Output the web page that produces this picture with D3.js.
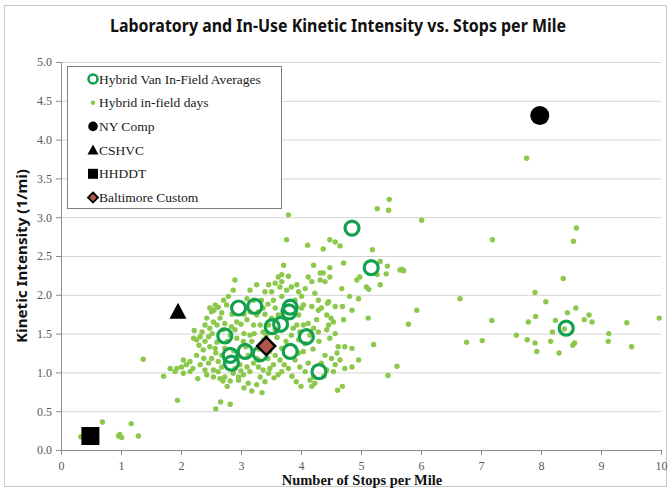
<!DOCTYPE html>
<html>
<head>
<meta charset="utf-8">
<script src="https://cdn.jsdelivr.net/npm/d3@7"></script>
<style>
  html, body { margin: 0; padding: 0; background: #fff; }
  svg { display: block; }
</style>
</head>
<body>
<svg id="chart" width="671" height="491"></svg>
<script>
// ---------------- DATA ----------------
const chartTitle = "Laboratory and In-Use Kinetic Intensity vs. Stops per Mile";
const xAxisTitle = "Number of Stops per Mile";
const yAxisTitle = "Kinetic Intensity (1/mi)";
const xTicks = [0, 1, 2, 3, 4, 5, 6, 7, 8, 9, 10];
const yTicks = [0.0, 0.5, 1.0, 1.5, 2.0, 2.5, 3.0, 3.5, 4.0, 4.5, 5.0];
const legendLabels = ["Hybrid Van In-Field Averages", "Hybrid in-field days", "NY Comp", "CSHVC", "HHDDT", "Baltimore Custom"];

// Hybrid in-field days [stops per mile, kinetic intensity]
const hybridDays = [
  [0.33,0.17],[0.69,0.36],[0.96,0.18],[0.98,0.20],[1.01,0.16],[1.17,0.34],[1.29,0.18],[1.94,0.64],
  [2.66,0.62],[2.82,0.59],[2.58,0.53],[2.70,0.89],[2.82,0.89],[2.77,0.82],[2.96,0.90],[1.37,1.17],
  [2.22,1.54],[2.21,1.44],[2.26,1.42],[2.32,1.46],[2.40,1.40],[2.46,1.46],[2.48,1.57],[2.54,1.65],
  [2.60,1.61],[2.51,1.78],[2.55,1.80],[2.65,1.70],[2.68,1.77],[2.73,1.63],[2.48,1.33],[2.57,1.31],
  [2.60,1.39],[2.37,1.29],[2.26,1.22],[2.15,1.14],[2.04,1.16],[2.01,1.07],[1.93,1.05],[1.82,1.05],
  [1.71,0.95],[1.90,1.01],[2.04,0.99],[2.15,1.01],[2.09,1.10],[2.32,1.10],[2.40,1.03],[2.46,1.12],
  [2.51,1.18],[2.54,1.03],[2.62,1.01],[2.68,1.07],[2.62,1.14],[2.68,1.22],[2.73,1.31],[2.54,0.94],
  [2.65,0.92],[2.73,0.94],[2.43,0.97],[2.87,0.99],[2.96,0.94],[3.04,0.97],[3.15,1.01],[3.10,1.07],
  [3.21,1.12],[3.26,1.18],[2.98,1.10],[2.93,1.44],[3.04,1.40],[3.15,1.48],[3.21,1.61],[3.10,1.68],
  [2.93,1.65],[3.15,1.78],[3.26,1.74],[2.82,1.48],[2.84,1.59],[2.40,1.61],[2.43,1.70],[2.48,1.83],
  [2.57,1.87],[2.90,2.19],[2.87,2.06],[2.79,1.98],[2.71,1.93],[3.15,2.06],[3.26,2.13],[3.10,1.95],
  [3.21,1.93],[2.62,1.84],[2.76,1.87],
  [3.79,3.03],[3.76,2.71],[4.11,2.64],[4.37,2.59],[4.48,2.71],[4.57,2.68],[4.65,2.63],[4.71,2.41],
  [4.48,2.35],[4.21,2.38],[3.71,2.38],[3.62,2.23],[3.68,2.26],[3.79,2.24],[3.68,2.17],[3.65,2.10],
  [3.57,2.15],[3.46,2.13],[3.40,2.04],[3.34,1.93],[3.51,2.04],[3.76,2.06],[3.84,2.10],[3.93,2.13],
  [3.96,2.04],[4.01,1.98],[4.07,2.08],[4.12,2.23],[4.18,2.17],[4.32,2.28],[4.37,2.28],[4.32,2.19],
  [4.40,2.17],[4.48,2.23],[4.23,2.02],[4.29,1.93],[4.46,1.91],[4.68,2.08],[4.93,2.19],[4.96,1.95],
  [3.90,1.93],[3.68,1.98],[3.54,1.93],[4.04,1.87],[4.18,1.85],
  [5.47,3.23],[5.46,3.09],[5.27,3.11],[6.01,2.96],[7.19,2.71],[5.19,2.58],[5.44,2.37],[5.42,2.27],
  [5.32,2.43],[5.27,2.26],[5.68,2.33],[5.65,2.32],[5.71,2.31],[5.32,2.13],[4.98,2.23],[5.09,2.10],
  [5.13,2.07],[4.81,1.98],[6.65,1.95],[5.93,1.80],[4.85,1.80],[4.69,1.85],[4.57,1.85],[4.44,1.89],
  [5.12,1.70],[4.71,1.68],[4.54,1.65],[4.50,1.70],[4.46,1.61],[5.79,1.62],[7.18,1.67],[6.76,1.39],
  [7.02,1.41],[5.21,1.36],[4.73,1.33],[4.62,1.33],
  [7.76,3.76],[8.59,2.86],[8.54,2.69],[8.37,2.21],[7.90,2.03],[8.08,1.91],[7.91,1.72],[7.79,1.65],
  [8.44,1.77],[8.58,1.83],[8.24,1.67],[8.72,1.68],[8.80,1.74],[8.85,1.65],[8.39,1.56],[8.19,1.52],
  [7.59,1.48],[7.77,1.42],[7.90,1.38],[7.93,1.27],[8.16,1.40],[8.30,1.25],[8.53,1.35],[8.56,1.38],
  [9.13,1.50],[9.12,1.40],[9.43,1.64],[9.51,1.33],[9.97,1.70],
  [4.34,1.83],[4.43,1.74],[4.26,1.68],[4.12,1.63],[4.21,1.57],[4.29,1.52],[4.43,1.55],[4.48,1.44],
  [4.57,1.50],[4.96,1.16],[4.65,1.16],[4.57,1.10],[4.73,1.05],[4.51,1.18],[4.40,1.22],[4.34,1.12],
  [4.43,1.03],[4.54,1.01],[4.69,0.82],[4.61,0.77],[4.23,0.86],[4.18,0.82],[4.15,0.90],[4.21,0.94],
  [4.00,0.82],[4.07,1.01],[4.12,1.12],[3.98,1.07],[3.90,1.16],[3.79,1.05],[3.68,1.01],[3.62,0.97],
  [3.46,0.99],[3.40,0.88],[3.32,0.94],[3.26,0.84],[3.54,1.10],[3.65,1.16],[3.57,1.22],[3.48,1.27],
  [3.68,1.31],[3.96,1.25],[4.04,1.27],[4.07,1.37],[3.96,1.42],[3.98,1.52],[3.87,1.57],[3.84,1.48],
  [3.93,1.61],[4.04,1.61],[3.57,1.55],[3.46,1.61],[3.37,1.52],[3.32,1.61],[3.51,1.70],[3.62,1.74],
  [3.71,1.78],[3.96,1.74],[4.01,1.83],[4.29,1.80],[3.29,1.78],[3.37,1.83],[3.57,1.83],[3.29,1.16],
  [3.29,1.07],[3.37,1.03],[4.85,1.31],[4.85,1.07],
  [5.45,0.96],[5.60,1.08],[3.08,1.33],[3.18,1.40],[3.30,1.30],[3.38,1.42],[3.45,1.18],[3.12,1.22],
  [2.88,1.28],[2.95,1.20],[3.22,1.50],[3.42,1.48],[3.05,0.80],[3.18,0.76],[3.35,0.74],[3.12,0.86],
  [2.35,1.52],[2.30,1.35],[2.52,1.50],[2.77,1.40],[2.70,1.55],[2.90,1.55],[3.00,1.62],[3.05,1.50],
  [2.85,1.75],[3.05,1.75],[3.40,1.75],[3.45,1.88],[2.20,1.05],[2.28,0.92],[2.38,1.18],[2.58,1.25],
  [2.90,1.05],[3.00,1.02],[3.48,1.05],[3.55,0.93],[3.72,1.10],[3.85,0.95],[3.92,0.88],[3.75,1.40],
  [3.60,1.45],[4.20,1.30],[4.30,1.40],[4.15,1.48],[4.60,1.25],[4.38,0.95]
];

// Hybrid Van In-Field Averages
const hybridAverages = [
  [4.85,2.86],[5.17,2.35],[2.96,1.83],[3.23,1.85],[3.82,1.84],[3.80,1.78],[2.73,1.47],[3.52,1.59],
  [3.66,1.62],[4.09,1.46],[3.82,1.27],[4.30,1.01],[2.82,1.22],[2.84,1.12],[3.07,1.27],[3.32,1.24],
  [8.42,1.57]
];

const nyComp = [[7.98, 4.31]];
const cshvc = [[1.95, 1.78]];
const hhddt = [[0.49, 0.18]];
const baltimore = [[3.42, 1.34]];

// ---------------- STYLE ----------------
const plot = { left: 61, right: 661, top: 62, bottom: 450 };
const colDay = "#8cc84b";
const colAvg = "#13a14e";
const colDiamond = "#b0564b";
const serif = "'Liberation Serif', 'Times New Roman', serif";
const sans = "'Noto Sans', 'Open Sans', sans-serif";

const svg = d3.select("#chart");

// outer border
svg.append("rect").attr("x", 4.5).attr("y", 5.5).attr("width", 662).attr("height", 481)
  .attr("fill", "#fff").attr("stroke", "#c8c8c8").attr("stroke-width", 1);

const x = d3.scaleLinear().domain([0, 10]).range([plot.left, plot.right]);
const y = d3.scaleLinear().domain([0, 5]).range([plot.bottom, plot.top]);

// gridlines
svg.append("g")
  .attr("transform", `translate(${plot.left},0)`)
  .call(d3.axisLeft(y).tickValues(yTicks.filter(v => v > 0)).tickSize(-(plot.right - plot.left)).tickFormat(""))
  .call(g => g.select(".domain").remove())
  .call(g => g.selectAll("line").attr("stroke", "#d4d4d4").attr("stroke-width", 1));

// y axis
const yAxis = svg.append("g")
  .attr("transform", `translate(${plot.left},0)`)
  .call(d3.axisLeft(y).tickValues(yTicks).tickSize(5).tickPadding(4).tickFormat(d3.format(".1f")));
yAxis.select(".domain").attr("stroke", "#8c8c8c");
yAxis.selectAll("line").attr("stroke", "#8c8c8c");
yAxis.selectAll("text").attr("font-family", serif).attr("font-size", 12).attr("fill", "#595959");

// x axis
const xAxis = svg.append("g")
  .attr("transform", `translate(0,${plot.bottom})`)
  .call(d3.axisBottom(x).tickValues(xTicks).tickSize(5).tickPadding(6).tickFormat(d3.format("d")));
xAxis.select(".domain").attr("stroke", "#8c8c8c");
xAxis.selectAll("line").attr("stroke", "#8c8c8c");
xAxis.selectAll("text").attr("font-family", serif).attr("font-size", 12).attr("fill", "#595959");

// title
svg.append("text").attr("x", 338).attr("y", 32).attr("text-anchor", "middle")
  .attr("font-family", sans).attr("font-weight", 700).attr("font-size", 17.5)
  .attr("textLength", 456).attr("lengthAdjust", "spacingAndGlyphs")
  .attr("fill", "#111").text(chartTitle);

// axis titles
svg.append("text").attr("transform", `translate(27,${(plot.top + plot.bottom) / 2}) rotate(-90)`)
  .attr("text-anchor", "middle").attr("font-family", sans).attr("font-weight", 700).attr("font-size", 14.5)
  .attr("textLength", 174).attr("lengthAdjust", "spacingAndGlyphs")
  .attr("fill", "#111").text(yAxisTitle);

svg.append("text").attr("x", 362).attr("y", 485).attr("text-anchor", "middle")
  .attr("font-family", serif).attr("font-weight", 700).attr("font-size", 14.5)
  .attr("fill", "#111").text(xAxisTitle);

// marks: in-field days
svg.append("g").selectAll("circle").data(hybridDays).join("circle")
  .attr("cx", d => x(d[0])).attr("cy", d => y(d[1])).attr("r", 2.7)
  .attr("fill", colDay);

// averages rings
svg.append("g").selectAll("circle").data(hybridAverages).join("circle")
  .attr("cx", d => x(d[0])).attr("cy", d => y(d[1])).attr("r", 7)
  .attr("fill", "none").attr("stroke", colAvg).attr("stroke-width", 3.2);

// NY Comp
svg.append("g").selectAll("circle").data(nyComp).join("circle")
  .attr("cx", d => x(d[0])).attr("cy", d => y(d[1])).attr("r", 9.5).attr("fill", "#000");

// CSHVC triangle
svg.append("g").selectAll("path").data(cshvc).join("path")
  .attr("transform", d => `translate(${x(d[0])},${y(d[1])})`)
  .attr("d", "M0,-9 L8.5,7 L-8.5,7 Z").attr("fill", "#000");

// HHDDT square
svg.append("g").selectAll("rect").data(hhddt).join("rect")
  .attr("x", d => x(d[0]) - 9).attr("y", d => y(d[1]) - 9).attr("width", 18).attr("height", 18)
  .attr("fill", "#000");

// Baltimore diamond
svg.append("g").selectAll("path").data(baltimore).join("path")
  .attr("transform", d => `translate(${x(d[0])},${y(d[1])})`)
  .attr("d", "M0,-9 L9,0 L0,9 L-9,0 Z").attr("fill", colDiamond)
  .attr("stroke", "#000").attr("stroke-width", 2.5);

// legend
const lg = svg.append("g");
lg.append("rect").attr("x", 67.5).attr("y", 66.5).attr("width", 214).attr("height", 142)
  .attr("fill", "#fff").attr("stroke", "#7f7f7f").attr("stroke-width", 1);
const ly0 = 79, ldy = 23.7, lmx = 93, ltx = 99;
legendLabels.forEach((lab, i) => {
  const yy = ly0 + i * ldy;
  const m = lg.append("g").attr("transform", `translate(${lmx},${yy})`);
  if (i === 0) m.append("circle").attr("r", 4.5).attr("fill", "none").attr("stroke", colAvg).attr("stroke-width", 2.6);
  if (i === 1) m.append("circle").attr("r", 2.2).attr("fill", colDay);
  if (i === 2) m.append("circle").attr("r", 4.8).attr("fill", "#000");
  if (i === 3) m.append("path").attr("d", "M0,-5.5 L5.5,4.5 L-5.5,4.5 Z").attr("fill", "#000");
  if (i === 4) m.append("rect").attr("x", -5).attr("y", -5).attr("width", 10).attr("height", 10).attr("fill", "#000");
  if (i === 5) m.append("path").attr("d", "M0,-5 L5,0 L0,5 L-5,0 Z").attr("fill", colDiamond).attr("stroke", "#000").attr("stroke-width", 1.8);
  lg.append("text").attr("x", ltx).attr("y", yy + 4.5).attr("font-family", serif).attr("font-size", 13.5)
    .attr("fill", "#1a1a1a").text(lab);
});
</script>
</body>
</html>
